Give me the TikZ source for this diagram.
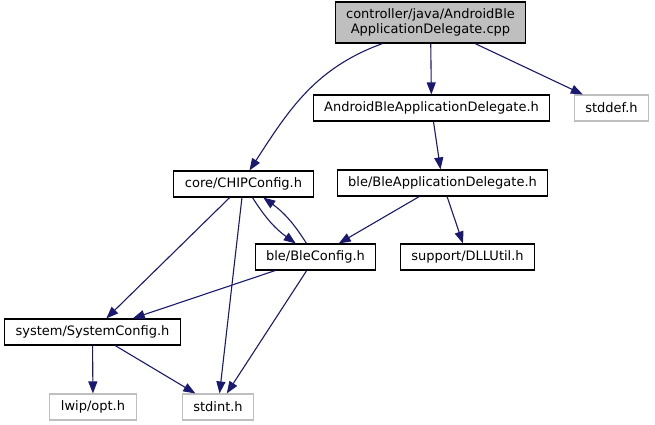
\documentclass[tikz,border=0pt]{standalone}
\usepackage{fontspec}
\setmainfont{DejaVu Sans}
\usetikzlibrary{calc, arrows.meta}

\definecolor{edgeblue}{HTML}{191970}
\definecolor{boxgray}{HTML}{BFBFBF}

\begin{document}
\begin{tikzpicture}[x=1pt, y=1pt, >={Stealth[inset=0pt, length=12pt, width=9pt]}, font=\fontsize{13}{15}\selectfont]
		
		% --- Parametri ---
		\def\boxH{26}
		\def\rootH{41}
		
		% --- Stili ---
		\tikzset{
			file/.style={draw=black, fill=white, line width=1.1pt, inner xsep=11pt, inner ysep=0pt, minimum height=\boxH pt},
			sysfile/.style={file, draw=boxgray},
			root/.style={file, fill=boxgray, align=center, minimum height=\rootH pt},
			edge/.style={->, draw=edgeblue, line width=1.1pt}
		}
		
		% --- Cornice ---
		\useasboundingbox (0,0) rectangle (655,-425);
		
		% --- File ---
		\node[root] (main) at (430.5,-22.5) {controller/java/AndroidBle\\ApplicationDelegate.cpp};
		\node[file] (andr) at (431.5,-108) {AndroidBleApplicationDelegate.h};
		\node[sysfile] (stddef) at (611.5,-108) {stddef.h};
		\node[file] (chip) at (243.5,-184) {core/CHIPConfig.h};
		\node[file] (bleapp) at (442.5,-183) {ble/BleApplicationDelegate.h};
		\node[file] (bleconf) at (315.5,-257) {ble/BleConfig.h};
		\node[file] (dll) at (467.5,-257) {support/DLLUtil.h};
		\node[file] (sys) at (92.5,-332) {system/SystemConfig.h};
		\node[sysfile] (lwip) at (93,-407) {lwip/opt.h};
		\node[sysfile] (stdint) at (218,-407) {stdint.h};
		
		% --- Inclusioni ---
		\draw[edge] ($(main.south)+(-48,0)$) to[out=200, in=57] ($(chip.north)+(6,0)$);
		\draw[edge] (main) -- (andr);
		\draw[edge] (main) -- (stddef);
		\draw[edge] (andr) -- (bleapp);
		\draw[edge] (bleapp) -- (bleconf);
		\draw[edge] (bleapp) -- (dll);
		
		% CHIPConfig <-> BleConfig
		\draw[edge] (chip) to[bend right=11] (bleconf);
		\draw[edge] (bleconf) to[bend right=11] (chip);
		
		\draw[edge] (chip) -- (sys);
		\draw[edge] (chip) -- (stdint);
		\draw[edge] (bleconf) -- (sys);
		\draw[edge] (bleconf) -- (stdint);
		\draw[edge] (sys) -- (lwip);
		\draw[edge] (sys) -- (stdint);
		
	\end{tikzpicture}
\end{document}
